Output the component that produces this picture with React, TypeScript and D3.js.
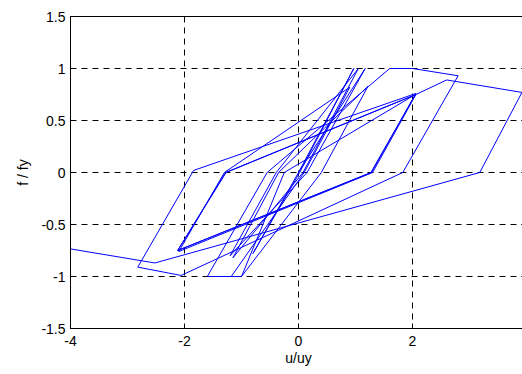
import React from "react";
import * as d3 from "d3";

// hysteresis path: displacement u/uy and force f/fy
const uValues = [
  0, 0.97, 0.02, -0.8, 0.0, 1.17, 0.15, -1.2, -0.39, 1.05, 0.08, -1.15, -0.35,
  1.22, 0.4, -1.0, -1.6, -0.55, 1.6, 2.0, 2.8, 1.83, -2.06, -2.82, -1.84, 2.06,
  1.28, -2.12, -1.28, 2.06, 1.3, -2.1, -1.3, 0.9, 0.1, -1.18, -1.0, -0.25, 2.05,
  1.27, -2.12, -1.27, 2.06, 2.6, 3.92, 3.18, -2.52, -4.6,
];
const fValues = [
  0, 1.0, 0, -0.78, 0, 1.0, 0, -0.8, 0, 1.0, 0, -0.82, 0,
  0.83, 0, -1.0, -1.0, 0, 1.0, 1.0, 0.93, 0, -0.99, -0.91, 0.02, 0.76,
  0, -0.75, 0, 0.75, 0, -0.76, 0, 0.82, 0, -1.0, -1.0, 0, 0.75,
  0, -0.75, 0, 0.75, 0.89, 0.77, 0, -0.87, -0.68,
];

const xTicks = [-4, -2, 0, 2, 4];
const yTicks = [-1.5, -1, -0.5, 0, 0.5, 1, 1.5];

const W = 522;
const H = 374;
const left = 70.5;
const right = 526.5;
const top = 16.5;
const bottom = 328.5;

export default function App() {
  const x = d3.scaleLinear().domain([-4, 4]).range([left, right]);
  const y = d3.scaleLinear().domain([-1.5, 1.5]).range([bottom, top]);

  const pts: [number, number][] = uValues.map((u, i) => [u, fValues[i]]);
  const line = d3
    .line<[number, number]>()
    .x((d) => x(d[0]))
    .y((d) => y(d[1]));

  const font = "'Liberation Sans', Arial, sans-serif";

  return (
    <svg
      width={W}
      height={H}
      style={{ position: "absolute", left: 0, top: 0, background: "#fff" }}
    >
      <defs>
        <clipPath id="plot">
          <rect x={left} y={top} width={right - left} height={bottom - top} />
        </clipPath>
      </defs>
      <rect x={0} y={0} width={W} height={H} fill="#fff" />

      {/* grid */}
      <g stroke="#000" strokeWidth={1} strokeDasharray="6,5" fill="none">
        {xTicks.map((t) => (
          <line key={"gx" + t} x1={x(t)} x2={x(t)} y1={top} y2={bottom} />
        ))}
        {yTicks.map((t) => (
          <line key={"gy" + t} x1={left} x2={right} y1={y(t)} y2={y(t)} />
        ))}
      </g>

      <path
        d={line(pts) ?? ""}
        fill="none"
        stroke="#0000ff"
        strokeWidth={1}
        clipPath="url(#plot)"
      />

      {/* axes box and ticks */}
      <g stroke="#000" strokeWidth={1} fill="none">
        <rect x={left} y={top} width={right - left} height={bottom - top} />
        {xTicks.map((t) => (
          <g key={"tx" + t}>
            <line x1={x(t)} x2={x(t)} y1={bottom} y2={bottom - 5} />
            <line x1={x(t)} x2={x(t)} y1={top} y2={top + 5} />
          </g>
        ))}
        {yTicks.map((t) => (
          <g key={"ty" + t}>
            <line x1={left} x2={left + 5} y1={y(t)} y2={y(t)} />
            <line x1={right} x2={right - 5} y1={y(t)} y2={y(t)} />
          </g>
        ))}
      </g>

      <g fontFamily={font} fontSize={14} fill="#000">
        {xTicks
          .filter((t) => x(t) < W - 8)
          .map((t) => (
            <text key={"lx" + t} x={x(t)} y={bottom + 17} textAnchor="middle">
              {t}
            </text>
          ))}
        {yTicks.map((t) => (
          <text key={"ly" + t} x={left - 5} y={y(t) + 5} textAnchor="end">
            {t}
          </text>
        ))}
        <text x={x(0)} y={bottom + 34} textAnchor="middle">
          u/uy
        </text>
        <text
          transform={`translate(${28},${(top + bottom) / 2}) rotate(-90)`}
          textAnchor="middle"
        >
          f / fy
        </text>
      </g>
    </svg>
  );
}
